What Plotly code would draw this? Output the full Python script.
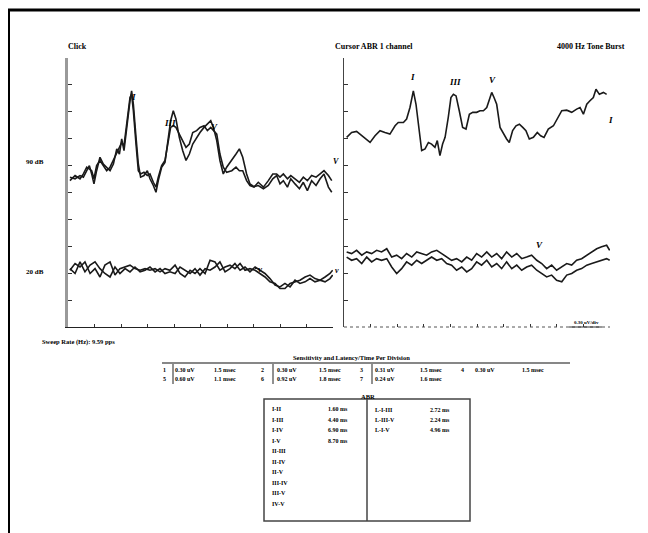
import plotly.graph_objects as go

W, H = 648, 533
OFF = 8  # page body margin of the browser

# ---------------- data (time in ms, amplitude in divisions) ----------------
t_left_hi = [0.11,0.40,0.68,0.87,1.06,1.21,1.34,1.47,1.62,1.81,2.00,2.19,2.38,2.57,2.76,2.91,3.04,3.17,3.32,3.51,
             3.60,3.70,3.85,3.98,4.11,4.30,4.49,4.64,4.83,4.98,5.11,5.30,5.49,5.68,5.81,5.96,6.11,6.30,6.49,6.68,
             6.87,7.06,7.28,7.47,7.70,7.89,8.08,8.23,8.42,8.60,8.79,8.98,9.27,9.51,9.70,9.89,10.11,10.30,10.53,10.77,
             11.06,11.34,11.59,11.81,12.00,12.19,12.42,12.61,12.85,13.10,13.32,13.55,13.79,14.04,14.27,14.49,14.74,14.93]
click90_a = [5.57,5.51,5.63,5.57,5.81,6.00,5.69,5.32,5.81,6.31,6.06,5.94,5.81,6.06,6.62,6.43,6.99,6.56,7.42,8.41,
             8.78,8.28,7.05,6.06,5.57,5.63,5.81,5.51,5.26,5.01,5.44,5.94,6.12,7.17,7.67,8.04,7.73,7.05,6.56,6.19,
             6.43,6.80,7.05,7.23,7.42,7.54,7.67,7.42,6.93,6.19,5.69,5.94,6.19,6.43,6.62,6.31,5.69,5.32,5.22,5.26,
             5.14,5.26,5.51,5.63,5.32,5.44,5.20,5.51,5.32,5.14,5.38,5.07,5.44,5.26,5.51,5.69,5.20,5.01]
click90_b = [5.44,5.63,5.51,5.69,5.94,5.88,5.81,5.51,6.00,6.19,6.00,5.81,5.94,6.19,6.49,6.68,6.86,6.74,7.54,8.53,
             8.65,8.04,6.80,5.81,5.69,5.75,5.63,5.69,5.38,5.20,5.57,6.00,6.19,6.93,7.42,7.48,7.42,7.17,6.93,6.68,
             6.80,7.23,7.30,7.42,7.48,7.30,7.42,7.30,7.17,6.43,5.94,5.75,5.81,5.94,5.81,5.81,5.44,5.26,5.20,5.38,
             5.20,5.44,5.69,5.69,5.57,5.69,5.51,5.63,5.51,5.38,5.57,5.44,5.63,5.57,5.69,5.81,5.63,5.44]

t_left_lo = [0.11,0.40,0.68,0.96,1.25,1.53,1.81,2.09,2.38,2.66,2.94,3.23,3.51,3.79,4.08,4.36,4.64,4.93,5.21,5.49,
             5.77,6.06,6.34,6.62,6.91,7.19,7.47,7.76,8.04,8.32,8.60,8.89,9.17,9.45,9.74,10.02,10.30,10.59,10.87,11.15,
             11.43,11.72,12.00,12.28,12.57,12.85,13.13,13.42,13.70,13.98,14.27,14.55,14.83,14.98]
click20_a = [2.11,2.36,2.23,2.42,1.99,2.17,1.86,2.30,2.42,1.93,2.17,2.23,2.30,2.17,2.11,2.17,2.11,2.17,2.05,2.17,
             2.11,2.30,1.99,1.86,2.11,1.99,2.17,1.99,2.48,2.42,2.11,2.23,2.30,2.17,2.36,2.11,2.17,2.11,1.99,1.86,
             1.68,1.62,1.43,1.43,1.62,1.68,1.74,1.86,1.93,1.80,1.74,1.86,1.99,2.11]
click20_b = [2.17,1.99,2.42,2.05,2.30,2.42,2.17,1.99,1.86,2.23,1.99,2.17,2.05,2.23,2.05,2.11,2.23,2.05,2.17,1.99,
             2.05,1.99,2.23,2.11,1.99,2.17,1.93,2.17,2.11,2.23,2.42,2.05,2.17,2.36,2.11,2.23,2.05,2.23,2.11,1.99,
             1.80,1.56,1.49,1.62,1.49,1.74,1.62,1.68,1.80,1.68,1.74,1.68,1.80,1.93]

t_right_hi = [0.15,0.43,0.71,1.00,1.28,1.47,1.75,2.03,2.31,2.59,2.88,3.06,3.35,3.53,3.72,3.91,4.06,4.21,4.38,4.57,
              4.76,4.94,5.13,5.26,5.41,5.56,5.70,5.88,6.03,6.17,6.32,6.50,6.69,6.88,7.07,7.26,7.48,7.67,7.86,8.05,
              8.20,8.33,8.46,8.61,8.80,8.99,9.17,9.32,9.51,9.70,9.89,10.08,10.26,10.45,10.68,10.90,11.09,11.28,11.52,11.81,
              12.09,12.28,12.56,12.84,13.12,13.31,13.50,13.69,13.87,14.06,14.21,14.40,14.63,14.81]
tone90 = [7.05,7.23,7.27,7.11,6.99,6.86,7.11,7.30,7.23,7.17,7.48,7.60,7.60,7.73,8.16,8.78,8.28,7.42,6.56,6.62,
          6.86,6.80,6.68,6.93,6.37,6.80,7.05,7.79,8.53,8.65,8.59,8.04,7.42,7.36,7.91,7.98,7.98,8.04,8.04,8.16,
          8.47,8.72,8.53,8.28,7.42,7.17,6.99,6.86,7.30,7.48,7.54,7.42,7.30,6.99,7.05,7.23,7.11,7.05,7.36,7.48,
          7.85,8.04,8.06,7.98,8.10,8.16,7.91,8.28,8.41,8.53,8.84,8.65,8.72,8.65]

t_right_lo = [0.15,0.43,0.71,1.00,1.28,1.56,1.84,2.12,2.41,2.69,2.97,3.25,3.53,3.82,4.10,4.38,4.66,4.94,5.23,5.51,
              5.79,6.07,6.35,6.64,6.92,7.20,7.48,7.76,8.05,8.33,8.61,8.89,9.17,9.46,9.74,10.02,10.30,10.58,10.87,11.15,
              11.43,11.71,11.99,12.28,12.56,12.84,13.12,13.40,13.69,13.97,14.25,14.53,14.81,14.98]
tone20_a = [2.79,2.73,2.85,2.67,2.79,2.73,2.85,2.79,2.91,2.60,2.67,2.54,2.73,2.60,2.79,2.73,2.67,2.79,2.85,2.73,
            2.60,2.48,2.54,2.42,2.60,2.48,2.73,2.60,2.79,2.60,2.73,2.54,2.79,2.60,2.73,2.54,2.60,2.67,2.48,2.36,
            2.17,2.30,2.11,2.23,2.36,2.30,2.48,2.54,2.67,2.79,2.91,2.98,3.04,2.85]
tone20_b = [2.60,2.48,2.54,2.36,2.60,2.42,2.54,2.48,2.54,2.23,1.99,2.17,2.42,2.30,2.48,2.36,2.48,2.60,2.48,2.54,
            2.36,2.30,2.11,2.23,2.05,2.17,2.42,2.30,2.48,2.23,2.36,2.17,2.42,2.17,2.30,2.11,2.23,2.30,2.11,1.99,
            1.86,1.93,1.74,1.68,1.93,1.99,2.11,2.17,2.30,2.36,2.42,2.48,2.54,2.48]

time_ticks = [1.5, 3.0, 4.5, 6.0, 7.5, 9.0, 10.5, 12.0, 13.5, 15.0]
amp_ticks = [1, 2, 3, 4, 5, 6, 7, 8, 9]

sens_rows = [
    [("1", "0.30 uV", "1.5 msec"), ("2", "0.30 uV", "1.5 msec"), ("3", "0.31 uV", "1.5 msec"), ("4", "0.30 uV", "1.5 msec")],
    [("5", "0.60 uV", "1.1 msec"), ("6", "0.92 uV", "1.8 msec"), ("7", "0.24 uV", "1.6 msec")],
]
abr_left_labels = ["I-II", "I-III", "I-IV", "I-V", "II-III", "II-IV", "II-V", "III-IV", "III-V", "IV-V"]
abr_left_values = ["1.60 ms", "4.40 ms", "6.90 ms", "8.70 ms"]
abr_right_labels = ["L-I-III", "L-III-V", "L-I-V"]
abr_right_values = ["2.72 ms", "2.24 ms", "4.96 ms"]

# ---------------- figure ----------------
def px(x):
    return (x - OFF) / W

def py(y):
    return 1 - (y - OFF) / H

fig = go.Figure()
INK = "#1a1a1a"
def add(t, v, xa, ya):
    fig.add_trace(go.Scatter(x=t, y=v, mode="lines", xaxis=xa, yaxis=ya,
                             line=dict(color=INK, width=1.6), hoverinfo="skip", showlegend=False))

add(t_left_hi, click90_b, "x", "y")
add(t_left_hi, click90_a, "x", "y")
add(t_left_lo, click20_a, "x", "y")
add(t_left_lo, click20_b, "x", "y")
add(t_right_hi, tone90, "x2", "y2")
add(t_right_lo, tone20_a, "x2", "y2")
add(t_right_lo, tone20_b, "x2", "y2")

ydom = [py(327), py(58)]
axis_common = dict(range=[0, 15], tickvals=time_ticks, showticklabels=False, ticks="inside",
                   ticklen=3, tickcolor="#333", showgrid=False, zeroline=False)
yaxis_common = dict(range=[0, 10], tickvals=amp_ticks, showticklabels=False, ticks="inside",
                    ticklen=4, tickcolor="#333", showgrid=False, zeroline=False, domain=ydom)

fig.update_layout(
    width=W, height=H, margin=dict(l=0, r=0, t=0, b=0),
    paper_bgcolor="white", plot_bgcolor="white",
    font=dict(family="Liberation Serif", color="#000", size=8),
    xaxis=dict(domain=[px(68), px(333)], anchor="y", showline=True, linecolor="#222", linewidth=1, **axis_common),
    yaxis=dict(anchor="x", showline=True, linecolor="#9a9a9a", linewidth=2.5, **yaxis_common),
    xaxis2=dict(domain=[px(344), px(610)], anchor="y2", showline=False, **axis_common),
    yaxis2=dict(anchor="x2", showline=True, linecolor="#444", linewidth=1.2, **yaxis_common),
)

shapes = []
# outer frame
shapes.append(dict(type="line", xref="paper", yref="paper", x0=px(8.5), x1=px(8.5), y0=py(10), y1=0,
                   line=dict(color="black", width=3)))
shapes.append(dict(type="line", xref="paper", yref="paper", x0=px(7), x1=1, y0=py(10), y1=py(10),
                   line=dict(color="black", width=3)))
# dotted bottom axis of right panel
shapes.append(dict(type="line", xref="x2 domain", yref="y2 domain", x0=0, x1=1, y0=0, y1=0,
                   line=dict(color="#555", width=1, dash="dot")))
# sensitivity rule
shapes.append(dict(type="line", xref="paper", yref="paper", x0=px(162), x1=px(570), y0=py(363), y1=py(363),
                   line=dict(color="#111", width=1.2)))
for cx in [173, 273, 372]:
    shapes.append(dict(type="line", xref="paper", yref="paper", x0=px(cx), x1=px(cx), y0=py(364), y1=py(384),
                       line=dict(color="#222", width=1)))
# ABR box
shapes.append(dict(type="rect", xref="paper", yref="paper", x0=px(264), x1=px(470), y0=py(521), y1=py(399),
                   line=dict(color="#444", width=1.5)))
shapes.append(dict(type="line", xref="paper", yref="paper", x0=px(367), x1=px(367), y0=py(521), y1=py(399),
                   line=dict(color="#444", width=1.5)))
# underline of scale label
shapes.append(dict(type="line", xref="paper", yref="paper", x0=px(569), x1=px(602), y0=py(327), y1=py(327),
                   line=dict(color="#333", width=1)))
fig.update_layout(shapes=shapes)

ann = []
def txt(x, y, s, size=8, anchor="left", bold=True, xref="paper", yref="paper", italic=False):
    if bold:
        s = "<b>" + s + "</b>"
    if italic:
        s = "<i>" + s + "</i>"
    ann.append(dict(x=x, y=y, xref=xref, yref=yref, text=s, showarrow=False, xanchor=anchor,
                    yanchor="middle", font=dict(size=size, family="Liberation Serif", color="#000")))

txt(px(66), py(46), "Click", 8)
txt(px(374), py(46), "Cursor ABR 1 channel", 8, "center")
txt(px(627), py(46), "4000 Hz Tone Burst", 8, "right")
txt(px(24), py(162), "90 dB", 7)
txt(px(24), py(272), "20 dB", 7)
txt(px(40), py(342), "Sweep Rate (Hz): 9.59 pps", 6.5)
txt(px(351), py(357), "Sensitivity and Latency/Time Per Division", 6.5, "center")
txt(px(586), py(322), "0.30 uV/div", 5, "center")

col_num = [168, 266, 365, 466]
col_uv = [173, 275, 373, 473]
col_ms = [212, 317, 418, 520]
for r, row in enumerate(sens_rows):
    yy = [370, 379][r]
    for c, (n, uv, ms) in enumerate(row):
        txt(px(col_num[c]), py(yy), n, 6, "right")
        txt(px(col_uv[c]), py(yy), uv, 6)
        txt(px(col_ms[c]), py(yy), ms, 6)

txt(px(368), py(396), "ABR", 6.5, "center")
for i, lab in enumerate(abr_left_labels):
    yy = 409 + i * 10.5
    txt(px(270), py(yy), lab, 6)
    if i < len(abr_left_values):
        txt(px(326), py(yy), abr_left_values[i], 6)
for i, lab in enumerate(abr_right_labels):
    yy = 410 + i * 10
    txt(px(373), py(yy), lab, 6)
    txt(px(428), py(yy), abr_right_values[i], 6)

# handwritten peak marks
for (x, y, s, xr, yr) in [(3.68, 8.55, "I", "x", "y"), (5.77, 7.6, "III", "x", "y"), (8.3, 7.42, "V", "x", "y"),
                          (10.9, 2.15, "v", "x", "y"),
                          (3.89, 9.3, "I", "x2", "y2"), (6.26, 9.12, "III", "x2", "y2"), (8.4, 9.2, "V", "x2", "y2"),
                          (11.05, 3.05, "V", "x2", "y2"), (15.0, 7.7, "I", "x2", "y2")]:
    txt(x, y, s, 9, "center", True, xr, yr, italic=True)
# end-of-trace marks (just outside the left panel)
txt(px(336), py(162), "V", 8, "center", True, italic=True)
txt(px(337), py(270), "v", 8, "center", True, italic=True)

fig.update_layout(annotations=ann)
fig.write_html("out.html")
